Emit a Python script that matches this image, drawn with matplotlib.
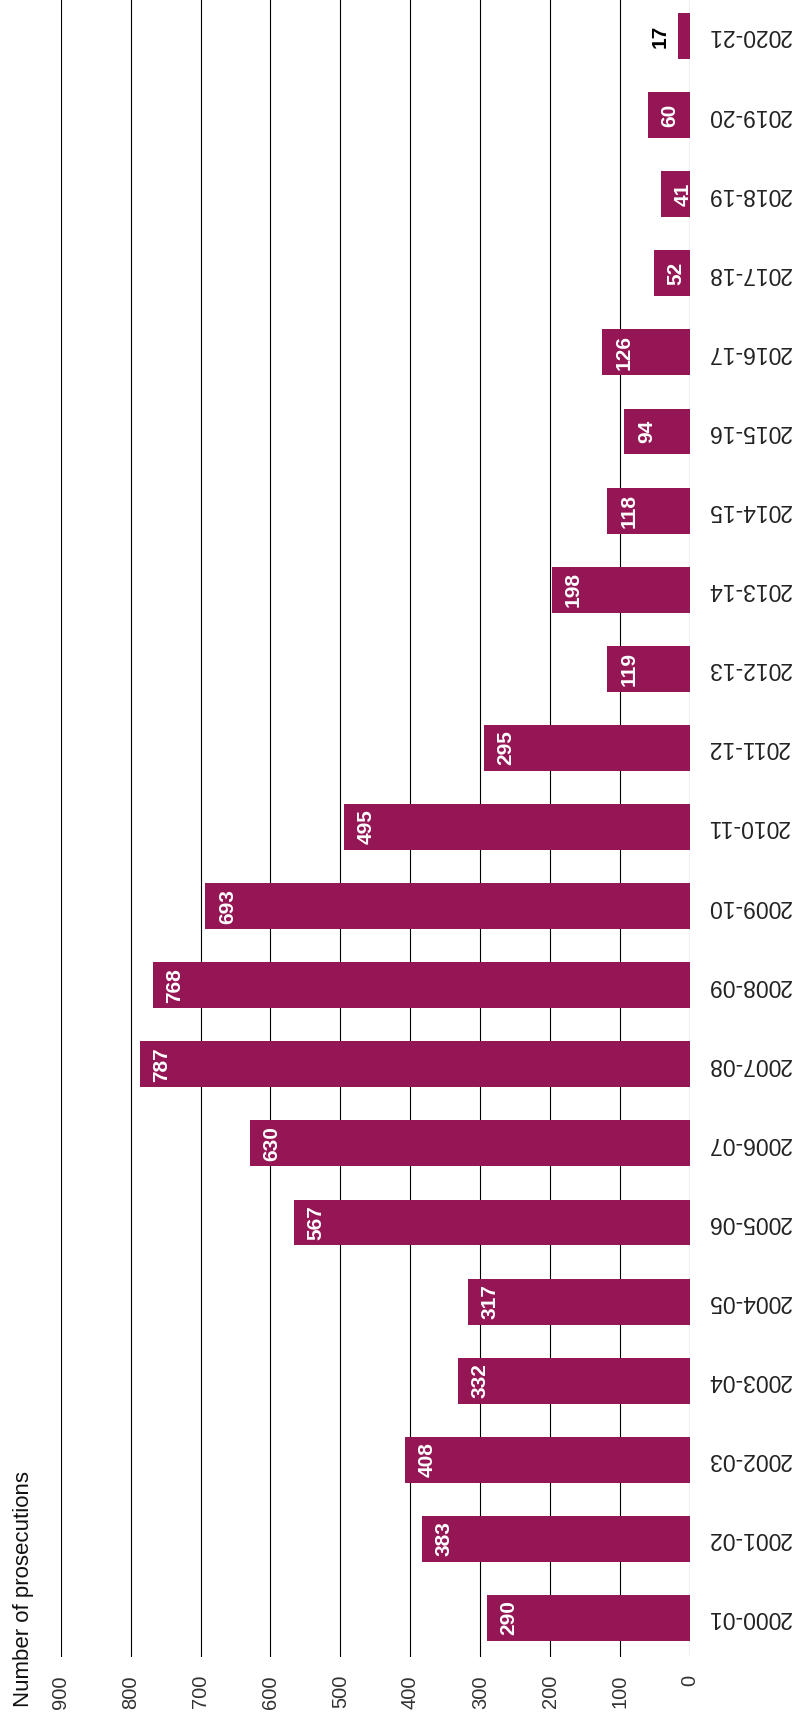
import matplotlib
matplotlib.use("Agg")
import matplotlib.pyplot as plt

years = [
    "2000-01", "2001-02", "2002-03", "2003-04", "2004-05", "2005-06",
    "2006-07", "2007-08", "2008-09", "2009-10", "2010-11", "2011-12",
    "2012-13", "2013-14", "2014-15", "2015-16", "2016-17", "2017-18",
    "2018-19", "2019-20", "2020-21",
]
prosecutions = [
    290, 383, 408, 332, 317, 567, 630, 787, 768, 693, 495,
    295, 119, 198, 118, 94, 126, 52, 41, 60, 17,
]
value_ticks = [0, 100, 200, 300, 400, 500, 600, 700, 800, 900]

BAR_COLOUR = "#951655"

plt.rcParams["font.family"] = ["Liberation Sans", "DejaVu Sans"]

fig = plt.figure(figsize=(8, 17.16), dpi=100)
ax = fig.add_axes([0.0759, 0.0344, 0.7866, 0.9656])

pos = list(range(len(years)))
ax.barh(pos, prosecutions, height=0.58, color=BAR_COLOUR, zorder=3)

# value axis runs right-to-left, categories bottom-to-top
ax.set_xlim(900, 0)
ax.set_ylim(-0.493, 20.455)

ax.set_xticks(value_ticks)
ax.set_xticklabels([str(t) for t in value_ticks], rotation=90,
                   fontsize=14.5, color="#333333")
ax.tick_params(axis="x", length=0, pad=13)

ax.yaxis.tick_right()
ax.set_yticks(pos)
ax.set_yticklabels(years, rotation=180, va="center", fontsize=16.5,
                   color="#222222")
ax.tick_params(axis="y", length=0, pad=12)

ax.grid(axis="x", color="black", linewidth=0.8)
ax.set_axisbelow(True)
for s in ax.spines.values():
    s.set_visible(False)

for i, v in enumerate(prosecutions):
    if v >= 30:
        ax.annotate(str(v), (v, i), xytext=(9, 0), textcoords="offset points",
                    ha="left", va="center", rotation=90, color="white",
                    fontsize=15, fontweight="bold", zorder=4)
    else:
        ax.annotate(str(v), (v, i), xytext=(-6, 0), textcoords="offset points",
                    ha="right", va="center", rotation=90, color="black",
                    fontsize=15, fontweight="bold", zorder=4)

fig.text(0.016, 1 - 1707 / 1716, "Number of prosecutions", rotation=90,
         ha="left", va="bottom", fontsize=16, color="#111111")

fig.savefig("out.png", dpi=100)
